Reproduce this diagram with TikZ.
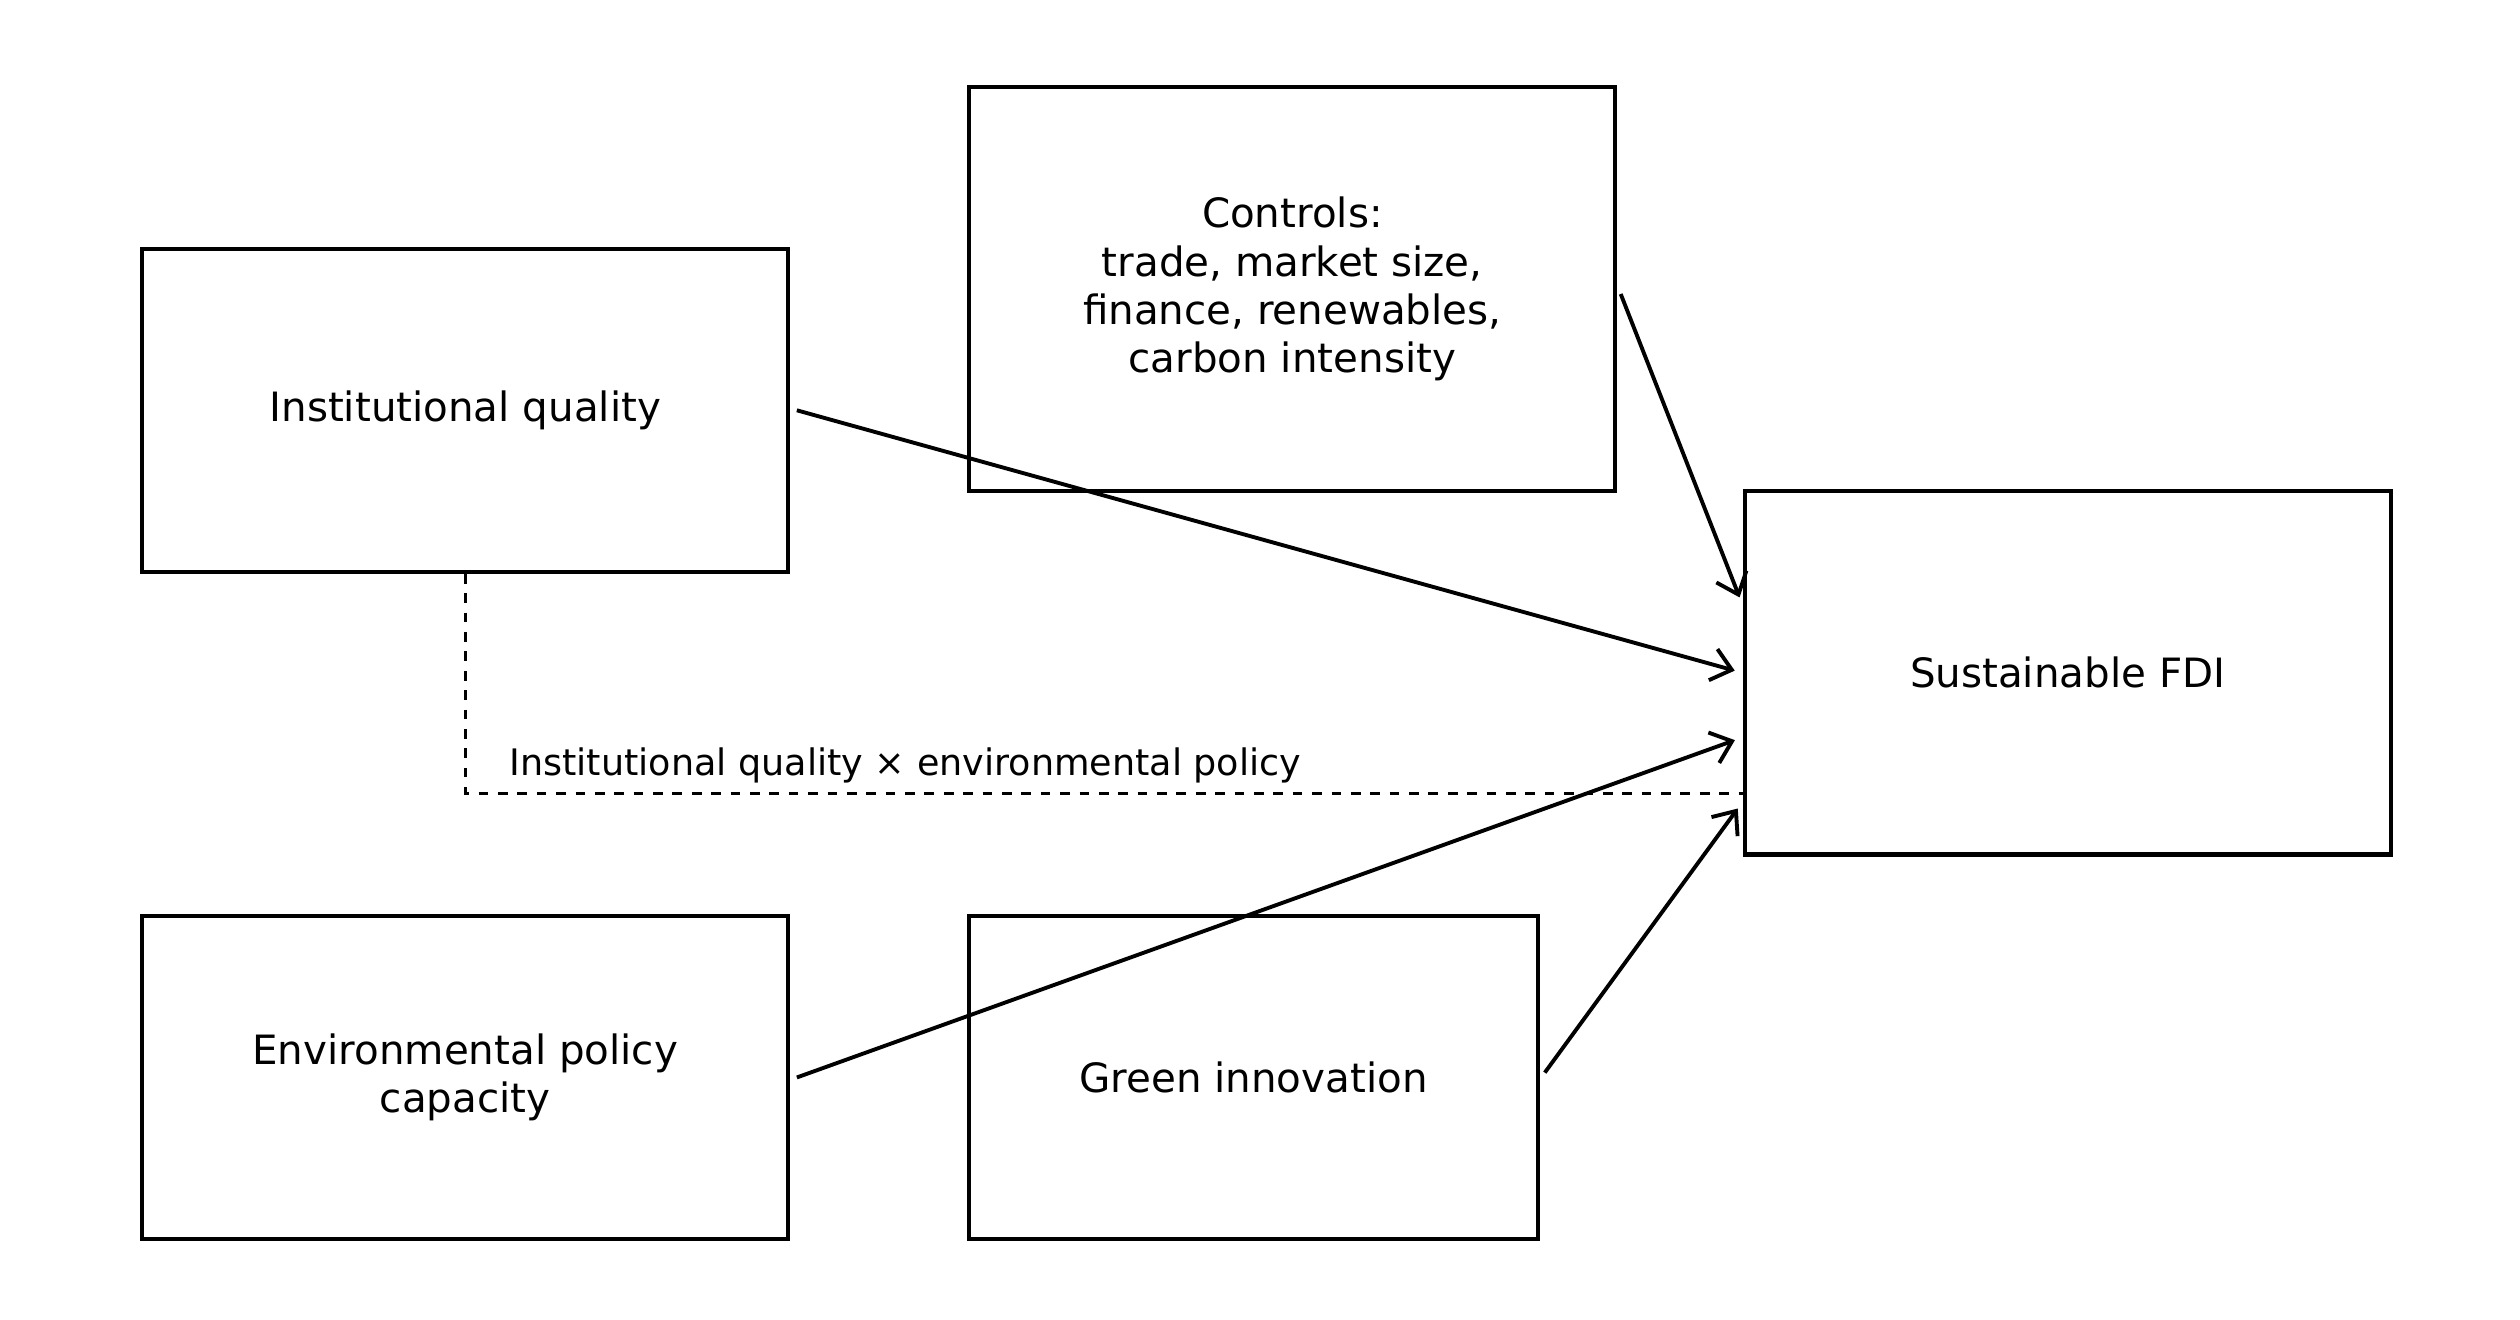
\documentclass[tikz,border=0pt]{standalone}
\usepackage{fontspec}
\setmainfont{DejaVu Sans}
\usetikzlibrary{arrows.meta}
\begin{document}
\begin{tikzpicture}[x=0.5pt,y=-0.5pt,
  box/.style={draw,line width=1.3pt,align=center,font=\fontsize{12.5}{15}\selectfont,inner sep=0pt},
  arr/.style={line width=1.2pt,-{Straight Barb[length=6pt,width=10pt,line width=1.2pt]},shorten >=2.5pt}]
\useasboundingbox (0,0) rectangle (1560,817);
\node[box,minimum width=200pt,minimum height=100pt] (iq) at (288,254) {Institutional quality};
\node[box,minimum width=200pt,minimum height=125pt] (ctl) at (800,179) {Controls:\\trade, market size,\\finance, renewables,\\carbon intensity};
\node[box,minimum width=200pt,minimum height=112.5pt] (fdi) at (1280,416.5) {Sustainable FDI};
\node[box,minimum width=200pt,minimum height=100pt] (env) at (288,667) {Environmental policy\\capacity};
\node[box,minimum width=176pt,minimum height=100pt] (gi) at (776,667) {Green innovation};
\draw[arr] ([xshift=2pt]iq.east) -- (fdi.west);
\draw[arr] ([xshift=1pt,yshift=-1.5pt]ctl.east) -- ([yshift=21pt]fdi.west);
\draw[arr] ([xshift=2pt]env.east) -- ([yshift=-20pt]fdi.west);
\draw[arr] ([xshift=1.5pt,yshift=1.5pt]gi.east) -- ([yshift=-40pt]fdi.west);
\coordinate (dc) at (288,491);
\draw[dashed,line width=1pt] (iq.south) -- (dc) -- (fdi.west |- dc);
\node[anchor=base west,inner sep=0pt,font=\fontsize{11.3}{13}\selectfont] (lbl) at (315,480) {Institutional quality × environmental policy};
\end{tikzpicture}
\end{document}
